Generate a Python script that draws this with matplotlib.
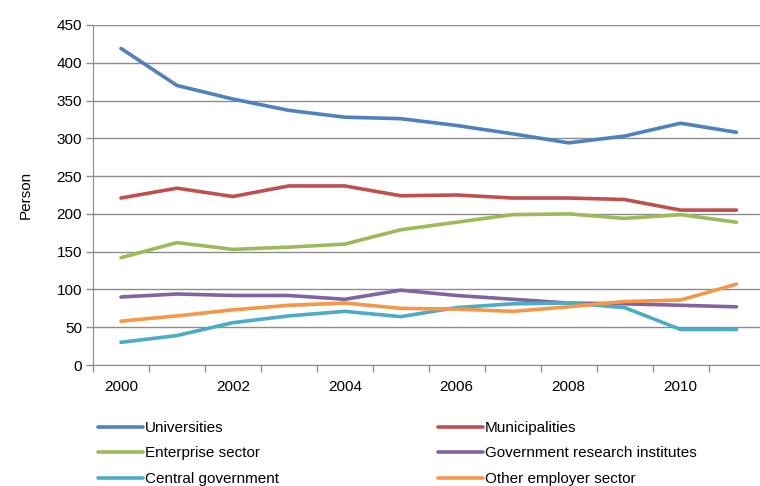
import matplotlib
matplotlib.use("Agg")
import matplotlib.pyplot as plt

plt.rcParams["font.family"] = ["Liberation Sans", "DejaVu Sans"]

YEARS = [2000, 2001, 2002, 2003, 2004, 2005, 2006, 2007, 2008, 2009, 2010, 2011]
TICK_LABELS = ["2000", "", "2002", "", "2004", "", "2006", "", "2008", "", "2010", ""]

universities = [419, 370, 352, 337, 328, 326, 317, 306, 294, 303, 320, 308]
municipalities = [221, 234, 223, 237, 237, 224, 225, 221, 221, 219, 205, 205]
enterprise = [142, 162, 153, 156, 160, 179, 189, 199, 200, 194, 199, 189]
gov_research = [90, 94, 92, 92, 87, 99, 92, 87, 82, 81, 79, 77]
central_gov = [30, 39, 56, 65, 71, 64, 76, 81, 82, 76, 47, 47]
other_sector = [58, 65, 73, 79, 82, 75, 74, 71, 77, 84, 86, 107]

SERIES = [
    ("Universities", universities, "#4F81BD"),
    ("Municipalities", municipalities, "#C0504D"),
    ("Enterprise sector", enterprise, "#9BBB59"),
    ("Government research institutes", gov_research, "#8064A2"),
    ("Central government", central_gov, "#4BACC6"),
    ("Other employer sector", other_sector, "#F79646"),
]

GRID = "#8c8c8c"
FS = 11

fig = plt.figure(figsize=(7.6, 4.86), dpi=100)
ax = fig.add_axes([93 / 760, 121 / 486, 667 / 760, 340 / 486])

x = list(range(len(YEARS)))
handles = {}
for name, vals, col in SERIES:
    (h,) = ax.plot(x, vals, color=col, lw=2.6, solid_capstyle="round", label=name)
    handles[name] = h

ax.set_xlim(-0.5, 11.42)
ax.set_ylim(0, 450)
ax.set_yticks(range(0, 451, 50))
ax.set_xticks(x)
ax.set_xticklabels(TICK_LABELS)
ax.set_xticks([i - 0.5 for i in range(12)], minor=True)
ax.tick_params(axis="x", which="major", length=0, pad=11, labelsize=FS)
ax.tick_params(axis="x", which="minor", length=5, color=GRID, width=1)
ax.tick_params(axis="y", length=5, color=GRID, width=1, labelsize=FS, pad=3)
ax.grid(axis="y", color=GRID, lw=1)
ax.set_axisbelow(True)
for s in ("top", "right"):
    ax.spines[s].set_visible(False)
for s in ("left", "bottom"):
    ax.spines[s].set_color(GRID)
ax.set_ylabel("Person", fontsize=FS, labelpad=17)

# two-column legend, filled row-wise like the series order
order = ["Universities", "Enterprise sector", "Central government",
         "Municipalities", "Government research institutes", "Other employer sector"]
fig.legend([handles[n] for n in order], order, ncol=2, loc="upper left",
           bbox_to_anchor=(98 / 760, 1 - 421 / 486), frameon=False, fontsize=FS,
           handlelength=2.95, handletextpad=0.12, columnspacing=10.4,
           labelspacing=0.75, borderpad=0, borderaxespad=0)

fig.savefig("out.png", dpi=100)
